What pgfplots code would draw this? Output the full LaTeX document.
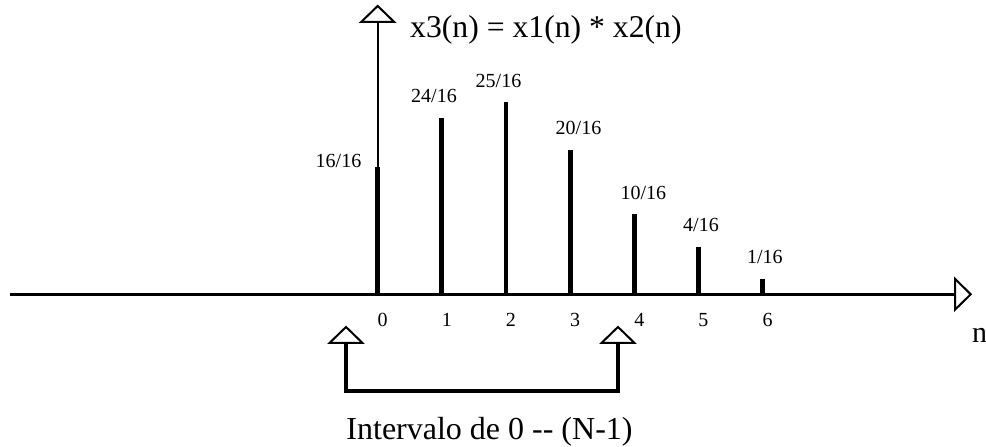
\documentclass[border=0pt]{standalone}
\usepackage{pgfplots}
\pgfplotsset{compat=1.18}
\usepackage{fontspec}
\setmainfont{Liberation Serif}
\begin{document}
\begin{tikzpicture}[lab/.style={anchor=base, inner sep=0pt, font=\fontsize{20bp}{24bp}\selectfont}]
\begin{axis}[x=64.15bp, y=7.956bp, xmin=-5.888, xmax=9.483, ymin=-19.19, ymax=36.99,
  hide axis, clip=false]
% stems (drawn heights, in units of 1/16)
\addplot[ycomb, line width=4.8bp, black] coordinates {(0,16) (1,22.15) (2,24.16) (3,18.13) (4,10.09) (5,5.98) (6,1.92)};
% axes
\draw[line width=2.7bp] (-5.729,0) -- (9.0,0);
\draw[line width=2bp, fill=white, line join=miter] (9.244,0) -- (9.0,1.948) -- (9.0,-1.948) -- cycle;
\draw[line width=2bp] (0,0) -- (0,34.23);
\draw[line width=2bp, fill=white, line join=miter] (0,36.24) -- (-0.257,34.23) -- (0.257,34.23) -- cycle;
% bracket
\draw[line width=4bp, line join=miter] (-0.494,-6.12) -- (-0.494,-12.15) -- (3.746,-12.15) -- (3.746,-6.12);
\draw[line width=2bp, fill=white, line join=miter] (-0.494,-4.11) -- (-0.751,-6.12) -- (-0.237,-6.12) -- cycle;
\draw[line width=2bp, fill=white, line join=miter] (3.746,-4.11) -- (3.489,-6.12) -- (4.003,-6.12) -- cycle;
% value labels
\node[lab] at (-0.611,15.95) {16/16};
\node[lab] at (0.878,24.07) {24/16};
\node[lab] at (1.883,26.0) {25/16};
\node[lab] at (3.130,20.14) {20/16};
\node[lab] at (4.143,11.93) {10/16};
\node[lab] at (5.040,7.86) {4/16};
\node[lab] at (6.037,3.89) {1/16};
% tick labels
\node[lab] at (0.078,-4.07) {0};
\node[lab] at (1.078,-4.07) {1};
\node[lab] at (2.078,-4.07) {2};
\node[lab] at (3.078,-4.07) {3};
\node[lab] at (4.078,-4.07) {4};
\node[lab] at (5.078,-4.07) {5};
\node[lab] at (6.078,-4.07) {6};
\node[anchor=base west, inner sep=0pt, font=\fontsize{31.7bp}{38bp}\selectfont] at (0.5035,32.28) {x3(n) = x1(n) * x2(n)};
\node[anchor=base west, inner sep=0pt, font=\fontsize{30bp}{36bp}\selectfont] at (9.262,-6.1) {n};
\node[anchor=base, inner sep=0pt, font=\fontsize{32bp}{38bp}\selectfont] at (1.743,-18.3) {Intervalo de 0 {-}{-} (N-1)};
\coordinate (SW) at (rel axis cs:0,0);
\coordinate (NE) at (rel axis cs:1,1);
\end{axis}
\pgfresetboundingbox
\path[use as bounding box] (SW) rectangle (NE);
\end{tikzpicture}
\end{document}
